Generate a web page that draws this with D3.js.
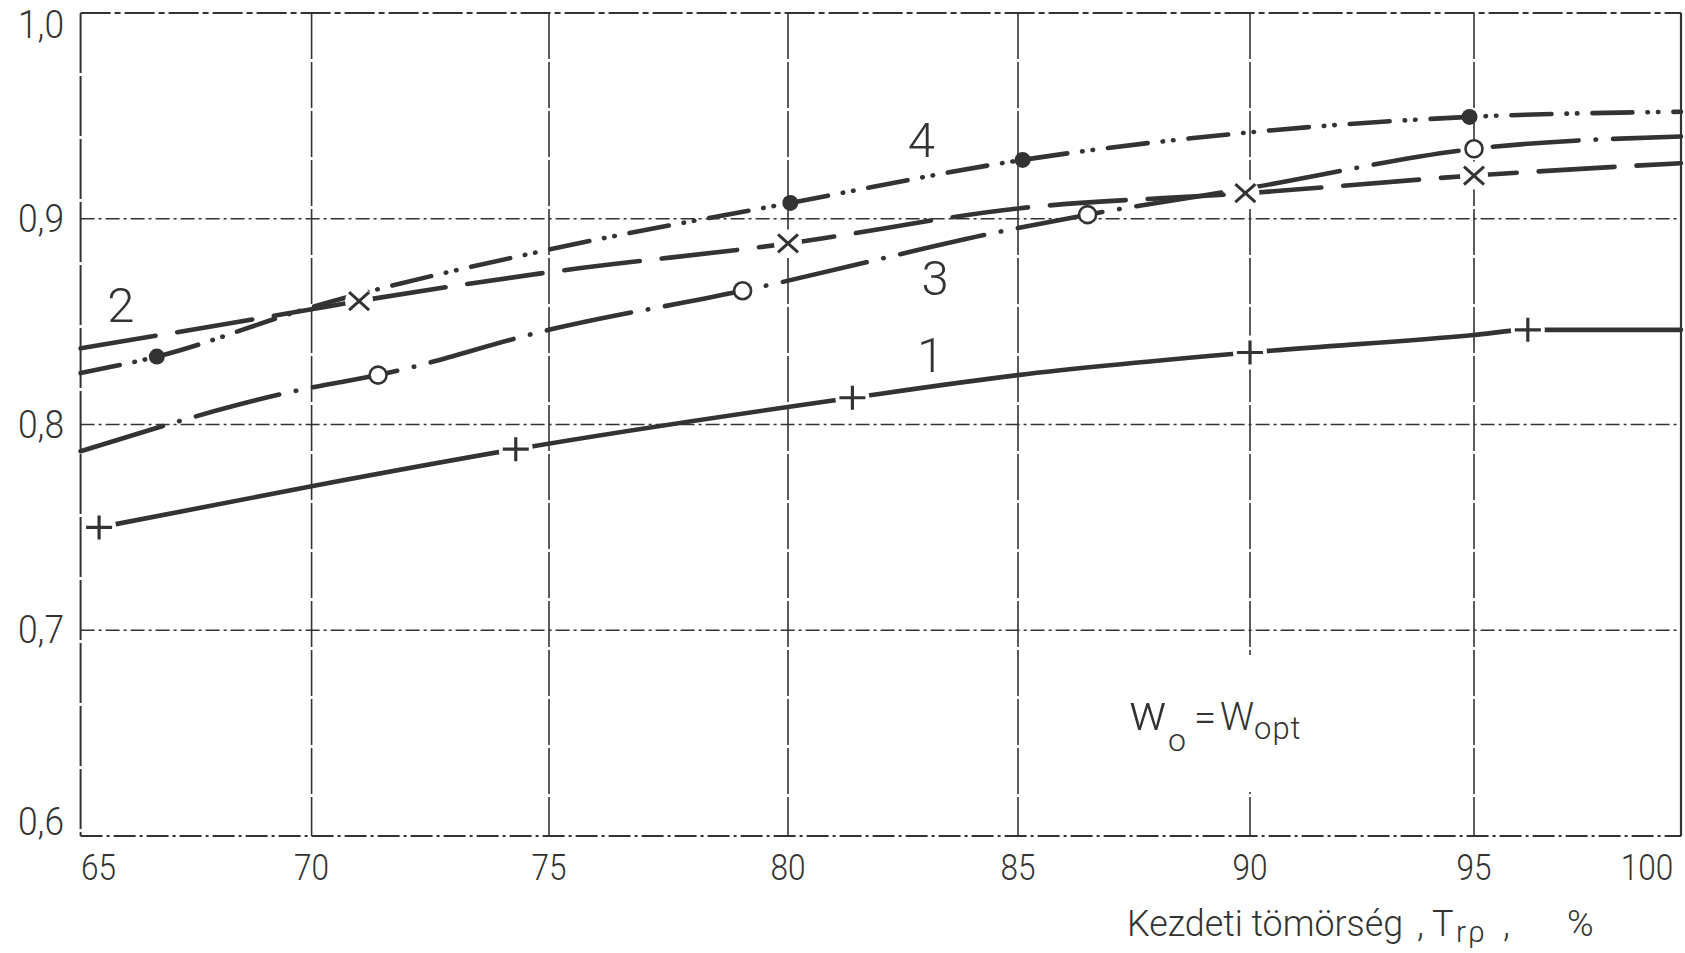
<!DOCTYPE html>
<html>
<head>
<meta charset="utf-8">
<script src="https://cdnjs.cloudflare.com/ajax/libs/d3/7.8.5/d3.min.js"></script>
<style>
    body { margin: 0; background: #fff; }
    svg { display: block; }
    text { font-family: Roboto, "DejaVu Sans Condensed", sans-serif; font-weight: 300; fill: #333; }
</style>
</head>
<body>
<svg id="chart" width="1685" height="953"></svg>
<script>
// axis ticks
var xTicks = [65, 70, 75, 80, 85, 90, 95, 100];
var xTickLabels = ["65", "70", "75", "80", "85", "90", "95", "100"];
var yTicks = [0.6, 0.7, 0.8, 0.9, 1.0];
var yTickLabels = ["0,6", "0,7", "0,8", "0,9", "1,0"];

// curve 1 (solid, +)
var s1x = [65.4, 70, 74.3, 81.4, 85, 90, 95, 96.3, 100];
var s1y = [0.750, 0.770, 0.788, 0.813, 0.824, 0.835, 0.8435, 0.846, 0.846];
var m1x = [65.4, 74.3, 81.4, 90, 96.3];
var m1y = [0.750, 0.788, 0.813, 0.835, 0.846];

// curve 2 (dashed, x)
var s2x = [65, 70, 71, 75, 80, 85, 90, 95, 100];
var s2y = [0.837, 0.856, 0.860, 0.874, 0.888, 0.905, 0.9125, 0.921, 0.927];
var m2x = [71, 80, 89.9, 95];
var m2y = [0.860, 0.888, 0.9125, 0.921];

// curve 3 (dash-dot, open circle)
var s3x = [65, 70, 71.4, 75, 79.05, 85, 86.5, 90, 95, 100];
var s3y = [0.787, 0.818, 0.824, 0.846, 0.865, 0.8955, 0.902, 0.915, 0.934, 0.940];
var m3x = [71.4, 79.05, 86.5, 95];
var m3y = [0.824, 0.865, 0.902, 0.934];

// curve 4 (dash-dot-dot, filled circle)
var s4x = [65, 66.65, 70, 75, 80.05, 85.1, 90, 94.9, 100];
var s4y = [0.825, 0.833, 0.857, 0.885, 0.9077, 0.9286, 0.942, 0.9495, 0.952];
var m4x = [66.65, 80.05, 85.1, 94.9];
var m4y = [0.833, 0.9077, 0.9286, 0.9495];

// curve numbers
var curveNames = ["1", "2", "3", "4"];
var curveNameX = [83.1, 65.87, 83.2, 82.9];
var curveNameY = [0.834, 0.858, 0.871, 0.9385];

var INK = "#333";
var svg = d3.select("#chart");

// the scanned grid is not evenly spaced, so the x scale is polylinear
var x = d3.scaleLinear().domain(xTicks).range([80.6, 311.6, 549, 788, 1018, 1250, 1474, 1681]);
var y = d3.scaleLinear().domain([0.6, 1.0]).range([836, 13]);

function zipPts(xs, ys) {
    var res = [];
    for (var i = 0; i < xs.length; i++) {
        res.push([xs[i], ys[i]]);
    }
    return res;
}

// grid
var grid = svg.append("g");
grid.selectAll(".vgrid")
    .data(xTicks.slice(1, -1))
    .enter().append("line")
    .attr("x1", function(d){ return x(d); })
    .attr("x2", function(d){ return x(d); })
    .attr("y1", y(1.0))
    .attr("y2", y(0.6))
    .style("stroke", INK)
    .style("stroke-width", 1.6)
    .style("stroke-dasharray", "46,3");

grid.selectAll(".hgrid")
    .data(yTicks.slice(1, -1))
    .enter().append("line")
    .attr("x1", x(65))
    .attr("x2", x(100))
    .attr("y1", function(d){ return y(d); })
    .attr("y2", function(d){ return y(d); })
    .style("stroke", INK)
    .style("stroke-width", 1.4)
    .style("stroke-dasharray", "14,4,3,4");

// curves
var line = d3.line()
    .x(function(d){ return x(d[0]); })
    .y(function(d){ return y(d[1]); })
    .curve(d3.curveMonotoneX);

var curves = [
    {pts: zipPts(s1x, s1y), dash: null},
    {pts: zipPts(s2x, s2y), dash: "76,22"},
    {pts: zipPts(s3x, s3y), dash: "86,17,0.5,17"},
    {pts: zipPts(s4x, s4y), dash: "40,15,0.5,10,0.5,15"}
];

svg.append("g").selectAll("path")
    .data(curves)
    .enter().append("path")
    .attr("d", function(d){ return line(d.pts); })
    .style("fill", "none")
    .style("stroke", INK)
    .style("stroke-width", 4.6)
    .style("stroke-linecap", "round")
    .style("stroke-dasharray", function(d){ return d.dash; });

// white gaps round the + and x markers
var halos = svg.append("g");
halos.selectAll(".h1")
    .data(zipPts(m1x, m1y))
    .enter().append("circle")
    .attr("cx", function(d){ return x(d[0]); })
    .attr("cy", function(d){ return y(d[1]); })
    .attr("r", 17)
    .style("fill", "#fff");
halos.selectAll(".h2")
    .data(zipPts(m2x, m2y))
    .enter().append("circle")
    .attr("cx", function(d){ return x(d[0]); })
    .attr("cy", function(d){ return y(d[1]); })
    .attr("r", 14)
    .style("fill", "#fff");

// markers
var marks = svg.append("g");
marks.selectAll(".plus")
    .data(zipPts(m1x, m1y))
    .enter().append("path")
    .attr("d", function(d){
        var cx = x(d[0]), cy = y(d[1]);
        return "M" + (cx - 13) + "," + cy + "H" + (cx + 13) + "M" + cx + "," + (cy - 12) + "V" + (cy + 12);
    })
    .style("stroke", INK)
    .style("stroke-width", 3.2)
    .style("fill", "none");

marks.selectAll(".cross")
    .data(zipPts(m2x, m2y))
    .enter().append("path")
    .attr("d", function(d){
        var cx = x(d[0]), cy = y(d[1]);
        return "M" + (cx - 10) + "," + (cy - 9) + "L" + (cx + 10) + "," + (cy + 9) +
               "M" + (cx - 10) + "," + (cy + 9) + "L" + (cx + 10) + "," + (cy - 9);
    })
    .style("stroke", INK)
    .style("stroke-width", 3)
    .style("fill", "none");

marks.selectAll(".open")
    .data(zipPts(m3x, m3y))
    .enter().append("circle")
    .attr("cx", function(d){ return x(d[0]); })
    .attr("cy", function(d){ return y(d[1]); })
    .attr("r", 8.5)
    .style("fill", "#fff")
    .style("stroke", INK)
    .style("stroke-width", 2.6);

marks.selectAll(".dot")
    .data(zipPts(m4x, m4y))
    .enter().append("circle")
    .attr("cx", function(d){ return x(d[0]); })
    .attr("cy", function(d){ return y(d[1]); })
    .attr("r", 8)
    .style("fill", INK);

// frame
var frame = svg.append("g").style("stroke", INK).style("fill", "none");
frame.append("line")
    .attr("x1", x(65)).attr("x2", x(100)).attr("y1", y(1.0)).attr("y2", y(1.0))
    .style("stroke-width", 1.8).style("stroke-dasharray", "30,4,6,4");
frame.append("line")
    .attr("x1", x(65)).attr("x2", x(100)).attr("y1", y(0.6)).attr("y2", y(0.6))
    .style("stroke-width", 1.8).style("stroke-dasharray", "22,4,3,4");
frame.append("line")
    .attr("x1", x(65)).attr("x2", x(65)).attr("y1", y(1.0)).attr("y2", y(0.6))
    .style("stroke-width", 2).style("stroke-dasharray", "60,3");
frame.append("line")
    .attr("x1", x(100)).attr("x2", x(100)).attr("y1", y(1.0)).attr("y2", y(0.6))
    .style("stroke-width", 2.2);

// tick labels, squeezed to the narrow lettering of the scan
// (first and last sit inside the frame, as in the scan)
svg.append("g").selectAll("text")
    .data(xTicks)
    .enter().append("text")
    .attr("x", function(d, i){
        if (i == 0) return x(d) + 18;
        if (i == xTicks.length - 1) return x(d) - 34;
        return x(d);
    })
    .attr("y", 880)
    .attr("text-anchor", "middle")
    .attr("textLength", function(d, i){ return xTickLabels[i].length * 17.5; })
    .attr("lengthAdjust", "spacingAndGlyphs")
    .style("font-size", "37px")
    .text(function(d, i){ return xTickLabels[i]; });

svg.append("g").selectAll("text")
    .data(yTicks)
    .enter().append("text")
    .attr("x", 64)
    .attr("y", function(d, i){
        if (i == 0) return y(d) - 1;
        if (i == yTicks.length - 1) return y(d) + 25;
        return y(d) + 13;
    })
    .attr("text-anchor", "end")
    .attr("textLength", 46)
    .attr("lengthAdjust", "spacingAndGlyphs")
    .style("font-size", "38px")
    .text(function(d, i){ return yTickLabels[i]; });

// curve numbers
svg.append("g").selectAll("text")
    .data(curveNames)
    .enter().append("text")
    .attr("x", function(d, i){ return x(curveNameX[i]); })
    .attr("y", function(d, i){ return y(curveNameY[i]) + 17; })
    .attr("text-anchor", "middle")
    .style("font-size", "49px")
    .text(function(d){ return d; });

// w0 = wopt note, with a white gap cut into the 90 gridline
svg.append("rect")
    .attr("x", x(90) - 12).attr("y", 655)
    .attr("width", 24).attr("height", 137)
    .style("fill", "#fff");
var note = svg.append("text").attr("x", 1129).attr("y", 730);
note.append("tspan").style("font-size", "50px").text("w");
note.append("tspan").attr("x", 1168).attr("y", 751).style("font-size", "32px").text("o");
note.append("tspan").attr("x", 1194).attr("y", 731).style("font-size", "40px").text("=");
note.append("tspan").attr("x", 1220).attr("y", 730).style("font-size", "38px").text("W");
note.append("tspan").attr("x", 1254).attr("y", 739).style("font-size", "31px").style("letter-spacing", "1px").text("opt");

// axis title
svg.append("text").attr("x", 1127).attr("y", 936).style("font-size", "36px")
    .attr("textLength", 276).attr("lengthAdjust", "spacingAndGlyphs").text("Kezdeti tömörség");
var unit = svg.append("text").attr("x", 1417).attr("y", 936).style("font-size", "36px");
unit.append("tspan").text(",");
unit.append("tspan").attr("x", 1432).text("T");
unit.append("tspan").attr("x", 1456).attr("y", 942).style("font-size", "30px").style("letter-spacing", "2px").text("rρ");
unit.append("tspan").attr("x", 1503).attr("y", 936).text(",");
unit.append("tspan").attr("x", 1567).text("%");
</script>
</body>
</html>
